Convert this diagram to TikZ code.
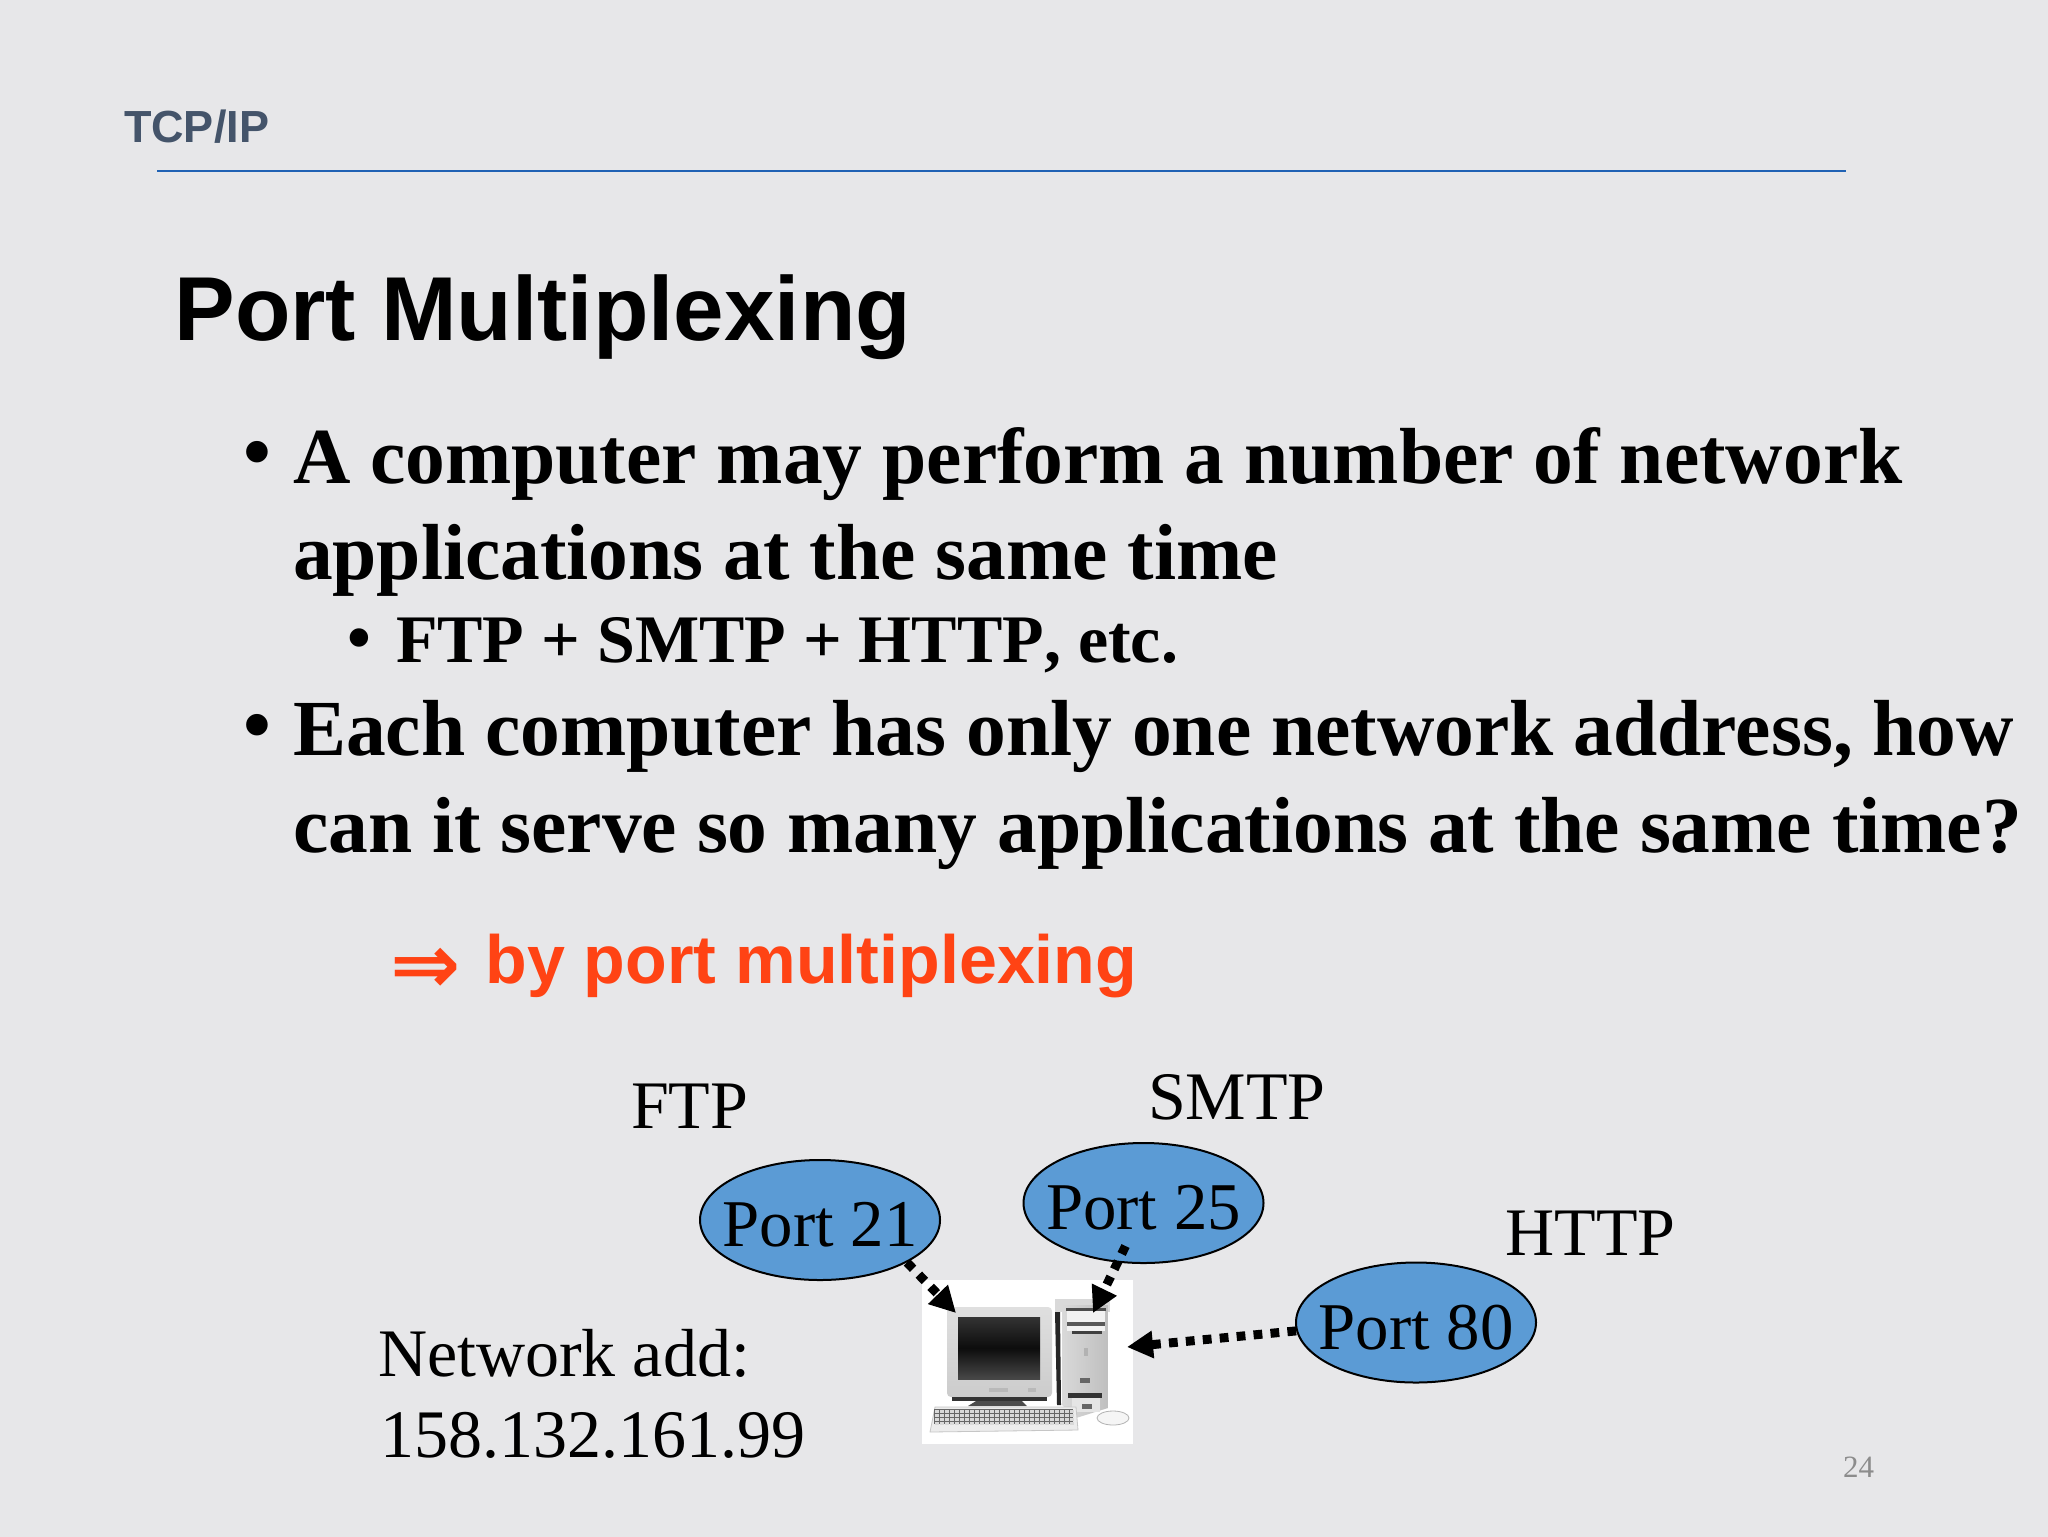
\documentclass[tikz,border=0pt]{standalone}
\usepackage{fontspec}
\setmainfont{Liberation Serif}
\setsansfont{Liberation Sans}
\newfontfamily\arrowfont{DejaVu Sans}
\usetikzlibrary{arrows.meta,shapes.geometric}

\definecolor{slidebg}{HTML}{E7E7E9}
\definecolor{headcolor}{HTML}{44546A}
\definecolor{rulecolor}{HTML}{2062B4}
\definecolor{portblue}{HTML}{5B9BD5}
\definecolor{answercolor}{HTML}{FF4314}
\definecolor{pagecolor}{HTML}{8C8C8C}

\tikzset{
	anytext/.style={anchor=base west, inner sep=0pt, outer sep=0pt},
	headtext/.style={anytext, text=headcolor, font=\sffamily\bfseries\fontsize{22.5pt}{27pt}\selectfont},
	titletext/.style={anytext, font=\sffamily\bfseries\fontsize{45.4pt}{54pt}\selectfont},
	bigtext/.style={anytext, font=\bfseries\fontsize{39.75pt}{48pt}\selectfont},
	subtext/.style={anytext, font=\bfseries\fontsize{34pt}{41pt}\selectfont},
	answertext/.style={anytext, text=answercolor, font=\sffamily\bfseries\fontsize{34.1pt}{41pt}\selectfont},
	plaintext/.style={anytext, font=\fontsize{34pt}{41pt}\selectfont},
	port/.style={ellipse, draw=black, line width=1pt, fill=portblue, minimum width=120pt, minimum height=60pt, inner xsep=-6.6pt, inner ysep=0pt, text height=26.5pt, text depth=0pt, font=\fontsize{33.4pt}{40pt}\selectfont},
	portarrow/.style={line width=4.5pt, dash pattern=on 4.4pt off 4.1pt, -{Triangle[length=13pt,width=13pt]}}
}

\begin{document}
\begin{tikzpicture}[x=0.5pt,y=-0.5pt]
	\useasboundingbox (0,0) rectangle (2048,1536);
	\fill[slidebg] (-10,-10) rectangle (2058,1546);

	% header
	\node[headtext] (head) at (124,142.5) {TCP/IP};
	\coordinate (ruleleft) at (157,170.5);
	\coordinate (ruleright) at (1846,170.5);
	\draw[rulecolor, line width=1pt] (ruleleft) -- (ruleright);
	\node[titletext] (title) at (174.5,340) {Port Multiplexing};

	% bullets
	\node[bigtext] (dota) at (243,478) {•};
	\node[bigtext] (linea) at (293,483) {A computer may perform a number of network};
	\node[bigtext] (lineb) at (293,579) {applications at the same time};
	\node[subtext] (dotb) at (347,660) {•};
	\node[subtext] (linec) at (396,662) {FTP + SMTP + HTTP\kern0pt, etc.};
	\node[bigtext] (dotc) at (243,751) {•};
	\node[bigtext] (lined) at (293,755.5) {Each computer has only one network address, how};
	\node[bigtext] (linee) at (293,852) {can it serve so many applications at the same time?};

	\node[anytext, text=answercolor, font=\arrowfont\bfseries\fontsize{42pt}{48pt}\selectfont] (implies) at (390,993) {⇒};
	\node[answertext] (answer) at (485.5,983.5) {by port multiplexing};

	% labels
	\node[plaintext] (ftp) at (631,1128) {FTP};
	\node[plaintext] (smtp) at (1148,1119.5) {SMTP};
	\node[plaintext] (http) at (1505.5,1255) {HTTP};
	\node[plaintext] (netadd) at (378,1376) {Network add:};
	\node[plaintext] (netnum) at (380,1457) {158.132.161.99};
	\node[anytext, text=pagecolor, font=\fontsize{15.5pt}{19pt}\selectfont] (pagenum) at (1843,1477) {24};

	% computer picture
	\node[fill=white, minimum width=105.5pt, minimum height=82pt, inner sep=0pt] (computer) at (1027,1362) {};

	% monitor
	\shade[top color=gray!25, bottom color=gray!40, rounded corners=2pt] (947,1307) rectangle (1052,1397);
	\shade[bottom color=black!72, top color=black!80, middle color=black!95] (958,1317) rectangle (1040,1379);
	\fill[gray!55] (989,1388) rectangle (1008,1392);
	\fill[gray!55] (1028,1388) rectangle (1036,1392);
	\fill[black!80] (952,1397) rectangle (1047,1401);
	\fill[black!70] (968,1406) -- (976,1401) -- (1022,1401) -- (1027,1406) -- cycle;

	% tower
	\fill[gray!30] (1055,1299) rectangle (1110,1312);
	\fill[black!85] (1055,1312) -- (1060,1312) -- (1061,1405) -- (1057,1405) -- cycle;
	\shade[left color=gray!30, right color=gray!50] (1062,1305) -- (1108,1305) -- (1108,1408) -- (1076,1418) -- (1062,1405) -- cycle;
	\fill[black!70] (1066,1308) rectangle (1106,1311);
	\fill[gray!10] (1067,1311) rectangle (1105,1322);
	\fill[black!65] (1067,1322) rectangle (1105,1326);
	\fill[gray!10] (1067,1326) rectangle (1105,1331);
	\fill[black!75] (1072,1331) rectangle (1102,1334);
	\fill[gray!60] (1084,1348) rectangle (1088,1356);
	\fill[black!60] (1080,1378) rectangle (1090,1383);
	\fill[black!80] (1068,1393) rectangle (1102,1398);
	\fill[gray!20] (1072,1398) rectangle (1100,1412);
	\fill[black!60] (1082,1404) rectangle (1092,1409);

	% keyboard
	\draw[gray!45, fill=gray!15] (935,1407) -- (1076,1407) -- (1078,1430) -- (930,1432) -- cycle;
	\fill[black!60] (934,1409) rectangle (1073,1424);
	\foreach \y in {1410,1414,...,1422}{
		\foreach \x in {935,940,...,1070}{
			\fill[gray!30] (\x,\y) rectangle ++(3.5,2.5);
		}
	}

	% mouse
	\draw[gray!60, fill=gray!8] (1113,1418) ellipse[x radius=16, y radius=7];

	% ports
	\node[port] (port21) at (820,1220) {Port 21};
	\node[port] (port25) at (1143.5,1203) {Port 25};
	\node[port] (port80) at (1416,1322.5) {Port 80};

	\coordinate (monitortip) at (956,1313);
	\coordinate (towertip) at (1093,1313);
	\coordinate (sidetip) at (1127,1347);
	\coordinate (port25start) at (1125.5,1246);

	\draw[portarrow] (port21.-26) -- (monitortip);
	\draw[portarrow] (port25start) -- (towertip);
	\draw[portarrow] (port80.184) -- (sidetip);
\end{tikzpicture}
\end{document}
